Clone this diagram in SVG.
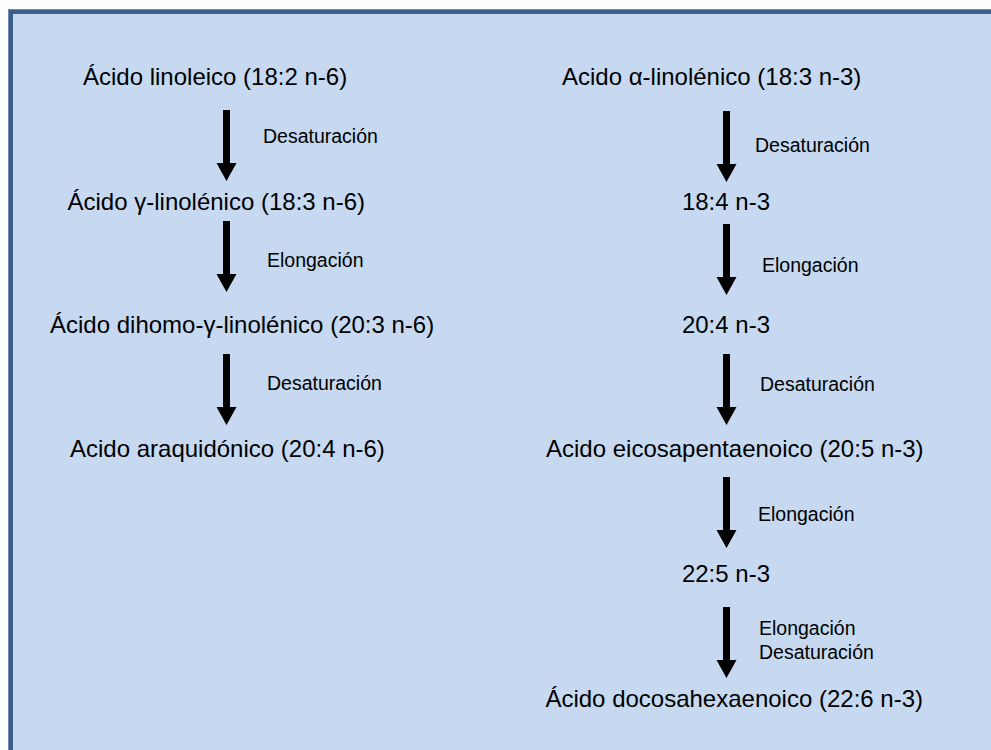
<svg xmlns="http://www.w3.org/2000/svg" width="991" height="750" viewBox="0 0 991 750">
<style>
.t{font-family:"Liberation Sans",Arial,sans-serif;font-size:24px;fill:#000}
.l{font-family:"Liberation Sans",Arial,sans-serif;font-size:19.5px;fill:#000}
.a{fill:#000}
</style>
<defs>
<path id="arr" d="M-3.5,0 H3.5 V53 H10 L0,71 L-10,53 H-3.5 Z"/>
</defs>
<rect x="0" y="0" width="991" height="750" fill="#ffffff"/>
<rect x="8" y="9" width="990" height="750" fill="#C6D9F0"/>
<path d="M10.5,760 V11.5 H1000" fill="none" stroke="#3A5F8C" stroke-width="5"/>
<path d="M8.5,760 V9.5 H1000" fill="none" stroke="#6F8CB0" stroke-width="1"/>

<g id="connectors">
<use href="#arr" class="a" x="226.5" y="110"/>
<use href="#arr" class="a" x="226.5" y="221"/>
<use href="#arr" class="a" x="226.5" y="354"/>
<use href="#arr" class="a" x="726.5" y="111"/>
<use href="#arr" class="a" x="726.5" y="224"/>
<use href="#arr" class="a" x="726.5" y="354"/>
<use href="#arr" class="a" x="726.5" y="477"/>
<use href="#arr" class="a" x="726.5" y="607"/>
<text class="l" x="263" y="143">Desaturación</text>
<text class="l" x="267" y="267">Elongación</text>
<text class="l" x="267" y="390">Desaturación</text>
<text class="l" x="755" y="152">Desaturación</text>
<text class="l" x="762" y="272">Elongación</text>
<text class="l" x="760" y="391">Desaturación</text>
<text class="l" x="758" y="521">Elongación</text>
<text class="l" x="759" y="635">Elongación</text>
<text class="l" x="759" y="659">Desaturación</text>
</g>

<g id="n1"><text class="t" x="83" y="85">Ácido linoleico (18:2 n-6)</text></g>
<g id="n2"><text class="t" x="365" y="210" text-anchor="end">Ácido γ-linolénico (18:3 n-6)</text></g>
<g id="n3"><text class="t" x="50" y="333">Ácido dihomo-γ-linolénico (20:3 n-6)</text></g>
<g id="n4"><text class="t" x="70" y="457">Acido araquidónico (20:4 n-6)</text></g>
<g id="n5"><text class="t" x="562" y="85">Acido α-linolénico (18:3 n-3)</text></g>
<g id="n6"><text class="t" x="770" y="210" text-anchor="end">18:4 n-3</text></g>
<g id="n7"><text class="t" x="770" y="333" text-anchor="end">20:4 n-3</text></g>
<g id="n8"><text class="t" x="546" y="457">Acido eicosapentaenoico (20:5 n-3)</text></g>
<g id="n9"><text class="t" x="770" y="582" text-anchor="end">22:5 n-3</text></g>
<g id="n10"><text class="t" x="923" y="707" text-anchor="end">Ácido docosahexaenoico (22:6 n-3)</text></g>
</svg>
